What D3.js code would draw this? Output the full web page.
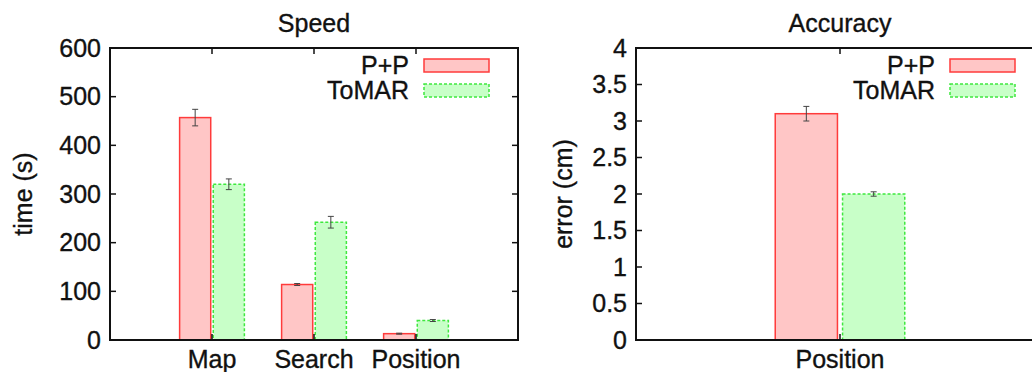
<!DOCTYPE html>
<html>
<head>
<meta charset="utf-8">
<script src="https://cdn.jsdelivr.net/npm/d3@7"></script>
<style>
  body { margin: 0; background: #fff; }
  text { font-family: "Liberation Sans", Arial, sans-serif; fill: #111; stroke: #111; stroke-width: 0.35px; }
</style>
</head>
<body>
<div id="chart_container"></div>
<script>
// data
const speed_categories = ["Map", "Search", "Position"];
const speed_pp = [457, 114, 13];
const speed_pp_err = [17, 2, 1];
const speed_tomar = [320, 242, 40];
const speed_tomar_err = [11, 12, 2];
const speed_ticks = [0, 100, 200, 300, 400, 500, 600];

const acc_categories = ["Position"];
const acc_pp = [3.1];
const acc_pp_err = [0.1];
const acc_tomar = [2.0];
const acc_tomar_err = [0.03];
const acc_ticks = [0, 0.5, 1, 1.5, 2, 2.5, 3, 3.5, 4];

const series_names = ["P+P", "ToMAR"];

const svg = d3.select("#chart_container")
    .append("svg")
    .attr("width", 1032)
    .attr("height", 372);

const font_size = 25;
const bar_w = 0.305, bar_off = 0.165, tick_len = 6;

function drawPanel(p) {
    const g = svg.append("g");

    const x = d3.scaleLinear()
        .domain([-1, p.categories.length])
        .range([p.left, p.right]);
    const y = d3.scaleLinear()
        .domain([0, p.ymax])
        .range([p.bottom, p.top]);

    const series = [
        { name: series_names[0], values: p.pp, errs: p.pp_err, off: -bar_off,
          fill: "#ffc6c6", stroke: "#ff3b3b", dash: null },
        { name: series_names[1], values: p.tomar, errs: p.tomar_err, off: bar_off,
          fill: "#c8ffc8", stroke: "#3ee83e", dash: "3,2" }
    ];

    // bars
    series.forEach(s => {
        g.selectAll(null)
            .data(s.values)
            .enter()
            .append("rect")
            .attr("x", (d, i) => x(i + s.off - bar_w / 2))
            .attr("y", d => y(d))
            .attr("width", x(bar_w) - x(0))
            .attr("height", d => y(0) - y(d))
            .attr("fill", s.fill)
            .style("stroke", s.stroke)
            .style("stroke-width", 1.5)
            .style("stroke-dasharray", s.dash);
    });

    // error bars
    series.forEach(s => {
        s.values.forEach((v, i) => {
            const cx = x(i + s.off), e = s.errs[i];
            const eb = g.append("g")
                .style("stroke", "#444")
                .style("stroke-width", 1);
            eb.append("line").attr("x1", cx).attr("x2", cx).attr("y1", y(v - e)).attr("y2", y(v + e));
            eb.append("line").attr("x1", cx - 3).attr("x2", cx + 3).attr("y1", y(v - e)).attr("y2", y(v - e));
            eb.append("line").attr("x1", cx - 3).attr("x2", cx + 3).attr("y1", y(v + e)).attr("y2", y(v + e));
        });
    });

    // frame
    g.append("rect")
        .attr("x", p.left)
        .attr("y", p.top)
        .attr("width", p.right - p.left)
        .attr("height", p.bottom - p.top)
        .attr("fill", "none")
        .style("stroke", "#111")
        .style("stroke-width", 2);

    // y ticks, mirrored on the right
    p.yticks.forEach(t => {
        g.append("line").attr("x1", p.left).attr("x2", p.left + tick_len)
            .attr("y1", y(t)).attr("y2", y(t)).style("stroke", "#111").style("stroke-width", 1.5);
        g.append("line").attr("x1", p.right - tick_len).attr("x2", p.right)
            .attr("y1", y(t)).attr("y2", y(t)).style("stroke", "#111").style("stroke-width", 1.5);
        g.append("text")
            .attr("x", p.left - 9)
            .attr("y", y(t))
            .attr("dy", "0.35em")
            .attr("text-anchor", "end")
            .style("font-size", font_size + "px")
            .text(t);
    });

    // x ticks top and bottom, category labels
    p.categories.forEach((c, i) => {
        g.append("line").attr("x1", x(i)).attr("x2", x(i))
            .attr("y1", p.top).attr("y2", p.top + tick_len).style("stroke", "#111").style("stroke-width", 1.5);
        g.append("line").attr("x1", x(i)).attr("x2", x(i))
            .attr("y1", p.bottom - tick_len).attr("y2", p.bottom).style("stroke", "#111").style("stroke-width", 1.5);
        g.append("text")
            .attr("x", x(i))
            .attr("y", 368)
            .attr("text-anchor", "middle")
            .style("font-size", font_size + "px")
            .text(c);
    });

    // title
    g.append("text")
        .attr("x", (p.left + p.right) / 2)
        .attr("y", 32)
        .attr("text-anchor", "middle")
        .style("font-size", font_size + "px")
        .text(p.title);

    // y label
    g.append("text")
        .attr("transform", `translate(${p.ylabel_x}, ${(p.top + p.bottom) / 2}) rotate(-90)`)
        .attr("dy", "0.35em")
        .attr("text-anchor", "middle")
        .style("font-size", font_size + "px")
        .text(p.ylabel);

    // legend
    series.forEach((s, k) => {
        const ly = 59 + k * 25;
        const bx = p.right - 29 - 65;
        g.append("rect")
            .attr("x", bx)
            .attr("y", ly)
            .attr("width", 65)
            .attr("height", 13)
            .attr("fill", s.fill)
            .style("stroke", s.stroke)
            .style("stroke-width", 1.5)
            .style("stroke-dasharray", s.dash);
        g.append("text")
            .attr("x", bx - 15)
            .attr("y", ly + 6.5)
            .attr("dy", "0.35em")
            .attr("text-anchor", "end")
            .style("font-size", font_size + "px")
            .text(s.name);
    });
}

drawPanel({
    title: "Speed", ylabel: "time (s)", ylabel_x: 23,
    categories: speed_categories, pp: speed_pp, pp_err: speed_pp_err,
    tomar: speed_tomar, tomar_err: speed_tomar_err,
    ymax: 600, yticks: speed_ticks,
    left: 110, right: 518, top: 48, bottom: 340
});

drawPanel({
    title: "Accuracy", ylabel: "error (cm)", ylabel_x: 563,
    categories: acc_categories, pp: acc_pp, pp_err: acc_pp_err,
    tomar: acc_tomar, tomar_err: acc_tomar_err,
    ymax: 4, yticks: acc_ticks,
    left: 636, right: 1044, top: 48, bottom: 340
});
</script>
</body>
</html>
